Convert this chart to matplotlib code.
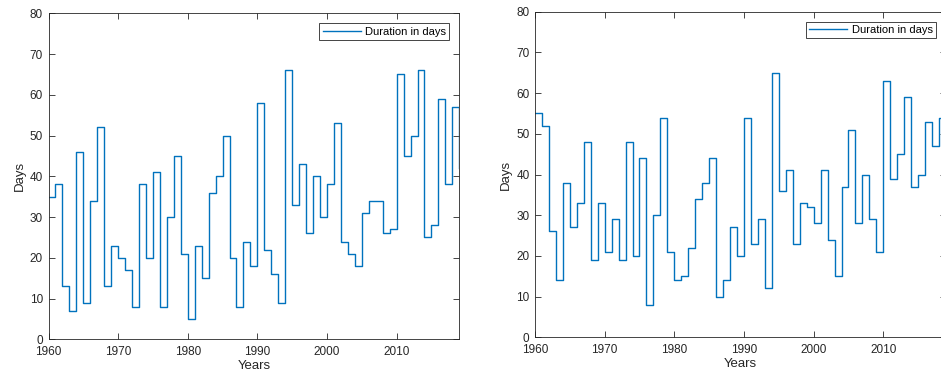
import matplotlib
matplotlib.use("Agg")
import matplotlib.pyplot as plt
import numpy as np

years = list(range(1960, 2020))
left_days = [35, 38, 13, 7, 46, 9, 34, 52, 13, 23,
             20, 17, 8, 38, 20, 41, 8, 30, 45, 21,
             5, 23, 15, 36, 40, 50, 20, 8, 24, 18,
             58, 22, 16, 9, 66, 33, 43, 26, 40, 30,
             38, 53, 24, 21, 18, 31, 34, 34, 26, 27,
             65, 45, 50, 66, 25, 28, 59, 38, 57, 42]
right_days = [55, 52, 26, 14, 38, 27, 33, 48, 19, 33,
              21, 29, 19, 48, 20, 44, 8, 30, 54, 21,
              14, 15, 22, 34, 38, 44, 10, 14, 27, 20,
              54, 23, 29, 12, 65, 36, 41, 23, 33, 32,
              28, 41, 24, 15, 37, 51, 28, 40, 29, 21,
              63, 39, 45, 59, 37, 40, 53, 47, 54, 54]
xticks = [1960, 1970, 1980, 1990, 2000, 2010]
yticks = [0, 10, 20, 30, 40, 50, 60, 70, 80]
legend_label = "Duration in days"

plt.rcParams['font.family'] = ['Liberation Sans', 'DejaVu Sans']
fig = plt.figure(figsize=(9.41, 3.79), dpi=100)
W, H = 941, 379
axcol = '#262626'
blue = '#0072BD'

def make_ax(l, r, t, b):
    return fig.add_axes([l / W, 1 - b / H, (r - l) / W, (b - t) / H])

axes = [make_ax(48.5, 459.3, 13.3, 339.3), make_ax(535, 946, 11.7, 337.3)]
for ax, vals in zip(axes, [left_days, right_days]):
    ax.step(years, vals, where='post', color=blue, lw=1.0, label=legend_label)
    ax.set_xlim(1960, 2019)
    ax.set_ylim(0, 80)
    ax.set_xticks(xticks)
    ax.set_yticks(yticks)
    ax.tick_params(direction='in', top=True, right=True, length=4, width=0.6,
                   colors=axcol, labelsize=8.5)
    ax.tick_params(axis='x', pad=4.5)
    ax.tick_params(axis='y', pad=4)
    for s in ax.spines.values():
        s.set_color(axcol)
        s.set_linewidth(0.6)
    ax.set_xlabel('Years', fontsize=9.5, color=axcol, labelpad=2)
    ax.set_ylabel('Days', fontsize=9.5, color=axcol, labelpad=3)
    leg = ax.legend(loc='upper right', fontsize=8, fancybox=False, framealpha=1,
                    edgecolor=axcol, borderaxespad=0.9, handlelength=3.4,
                    handletextpad=0.4, borderpad=0.3)
    leg.get_frame().set_linewidth(0.6)

fig.savefig('out.png', dpi=100)
